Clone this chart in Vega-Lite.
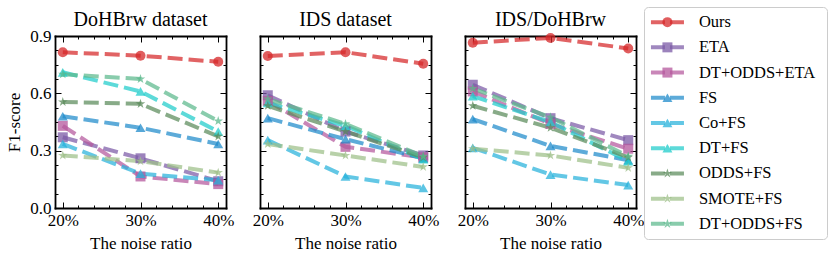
{
  "$schema": "https://vega.github.io/schema/vega-lite/v6.json",
  "padding": {"left": 5, "right": 5, "top": 6, "bottom": 5},
  "datasets": {
    "scores": [
      {"dataset": "DoHBrw", "series": "Ours", "noise": 20, "f1": 0.815},
      {"dataset": "DoHBrw", "series": "Ours", "noise": 30, "f1": 0.797},
      {"dataset": "DoHBrw", "series": "Ours", "noise": 40, "f1": 0.765},
      {"dataset": "DoHBrw", "series": "ETA", "noise": 20, "f1": 0.37},
      {"dataset": "DoHBrw", "series": "ETA", "noise": 30, "f1": 0.26},
      {"dataset": "DoHBrw", "series": "ETA", "noise": 40, "f1": 0.14},
      {"dataset": "DoHBrw", "series": "DT+ODDS+ETA", "noise": 20, "f1": 0.43},
      {"dataset": "DoHBrw", "series": "DT+ODDS+ETA", "noise": 30, "f1": 0.165},
      {"dataset": "DoHBrw", "series": "DT+ODDS+ETA", "noise": 40, "f1": 0.125},
      {"dataset": "DoHBrw", "series": "FS", "noise": 20, "f1": 0.48},
      {"dataset": "DoHBrw", "series": "FS", "noise": 30, "f1": 0.42},
      {"dataset": "DoHBrw", "series": "FS", "noise": 40, "f1": 0.335},
      {"dataset": "DoHBrw", "series": "Co+FS", "noise": 20, "f1": 0.335},
      {"dataset": "DoHBrw", "series": "Co+FS", "noise": 30, "f1": 0.18},
      {"dataset": "DoHBrw", "series": "Co+FS", "noise": 40, "f1": 0.145},
      {"dataset": "DoHBrw", "series": "DT+FS", "noise": 20, "f1": 0.71},
      {"dataset": "DoHBrw", "series": "DT+FS", "noise": 30, "f1": 0.61},
      {"dataset": "DoHBrw", "series": "DT+FS", "noise": 40, "f1": 0.40},
      {"dataset": "DoHBrw", "series": "ODDS+FS", "noise": 20, "f1": 0.555},
      {"dataset": "DoHBrw", "series": "ODDS+FS", "noise": 30, "f1": 0.545},
      {"dataset": "DoHBrw", "series": "ODDS+FS", "noise": 40, "f1": 0.375},
      {"dataset": "DoHBrw", "series": "SMOTE+FS", "noise": 20, "f1": 0.275},
      {"dataset": "DoHBrw", "series": "SMOTE+FS", "noise": 30, "f1": 0.245},
      {"dataset": "DoHBrw", "series": "SMOTE+FS", "noise": 40, "f1": 0.185},
      {"dataset": "DoHBrw", "series": "DT+ODDS+FS", "noise": 20, "f1": 0.70},
      {"dataset": "DoHBrw", "series": "DT+ODDS+FS", "noise": 30, "f1": 0.675},
      {"dataset": "DoHBrw", "series": "DT+ODDS+FS", "noise": 40, "f1": 0.455},

      {"dataset": "IDS", "series": "Ours", "noise": 20, "f1": 0.795},
      {"dataset": "IDS", "series": "Ours", "noise": 30, "f1": 0.815},
      {"dataset": "IDS", "series": "Ours", "noise": 40, "f1": 0.755},
      {"dataset": "IDS", "series": "ETA", "noise": 20, "f1": 0.59},
      {"dataset": "IDS", "series": "ETA", "noise": 30, "f1": 0.40},
      {"dataset": "IDS", "series": "ETA", "noise": 40, "f1": 0.275},
      {"dataset": "IDS", "series": "DT+ODDS+ETA", "noise": 20, "f1": 0.56},
      {"dataset": "IDS", "series": "DT+ODDS+ETA", "noise": 30, "f1": 0.32},
      {"dataset": "IDS", "series": "DT+ODDS+ETA", "noise": 40, "f1": 0.265},
      {"dataset": "IDS", "series": "FS", "noise": 20, "f1": 0.47},
      {"dataset": "IDS", "series": "FS", "noise": 30, "f1": 0.36},
      {"dataset": "IDS", "series": "FS", "noise": 40, "f1": 0.26},
      {"dataset": "IDS", "series": "Co+FS", "noise": 20, "f1": 0.355},
      {"dataset": "IDS", "series": "Co+FS", "noise": 30, "f1": 0.165},
      {"dataset": "IDS", "series": "Co+FS", "noise": 40, "f1": 0.105},
      {"dataset": "IDS", "series": "DT+FS", "noise": 20, "f1": 0.55},
      {"dataset": "IDS", "series": "DT+FS", "noise": 30, "f1": 0.43},
      {"dataset": "IDS", "series": "DT+FS", "noise": 40, "f1": 0.255},
      {"dataset": "IDS", "series": "ODDS+FS", "noise": 20, "f1": 0.535},
      {"dataset": "IDS", "series": "ODDS+FS", "noise": 30, "f1": 0.40},
      {"dataset": "IDS", "series": "ODDS+FS", "noise": 40, "f1": 0.265},
      {"dataset": "IDS", "series": "SMOTE+FS", "noise": 20, "f1": 0.335},
      {"dataset": "IDS", "series": "SMOTE+FS", "noise": 30, "f1": 0.275},
      {"dataset": "IDS", "series": "SMOTE+FS", "noise": 40, "f1": 0.215},
      {"dataset": "IDS", "series": "DT+ODDS+FS", "noise": 20, "f1": 0.57},
      {"dataset": "IDS", "series": "DT+ODDS+FS", "noise": 30, "f1": 0.44},
      {"dataset": "IDS", "series": "DT+ODDS+FS", "noise": 40, "f1": 0.27},

      {"dataset": "IDS/DoHBrw", "series": "Ours", "noise": 20, "f1": 0.865},
      {"dataset": "IDS/DoHBrw", "series": "Ours", "noise": 30, "f1": 0.89},
      {"dataset": "IDS/DoHBrw", "series": "Ours", "noise": 40, "f1": 0.835},
      {"dataset": "IDS/DoHBrw", "series": "ETA", "noise": 20, "f1": 0.645},
      {"dataset": "IDS/DoHBrw", "series": "ETA", "noise": 30, "f1": 0.47},
      {"dataset": "IDS/DoHBrw", "series": "ETA", "noise": 40, "f1": 0.355},
      {"dataset": "IDS/DoHBrw", "series": "DT+ODDS+ETA", "noise": 20, "f1": 0.61},
      {"dataset": "IDS/DoHBrw", "series": "DT+ODDS+ETA", "noise": 30, "f1": 0.44},
      {"dataset": "IDS/DoHBrw", "series": "DT+ODDS+ETA", "noise": 40, "f1": 0.31},
      {"dataset": "IDS/DoHBrw", "series": "FS", "noise": 20, "f1": 0.465},
      {"dataset": "IDS/DoHBrw", "series": "FS", "noise": 30, "f1": 0.325},
      {"dataset": "IDS/DoHBrw", "series": "FS", "noise": 40, "f1": 0.25},
      {"dataset": "IDS/DoHBrw", "series": "Co+FS", "noise": 20, "f1": 0.315},
      {"dataset": "IDS/DoHBrw", "series": "Co+FS", "noise": 30, "f1": 0.175},
      {"dataset": "IDS/DoHBrw", "series": "Co+FS", "noise": 40, "f1": 0.12},
      {"dataset": "IDS/DoHBrw", "series": "DT+FS", "noise": 20, "f1": 0.585},
      {"dataset": "IDS/DoHBrw", "series": "DT+FS", "noise": 30, "f1": 0.45},
      {"dataset": "IDS/DoHBrw", "series": "DT+FS", "noise": 40, "f1": 0.245},
      {"dataset": "IDS/DoHBrw", "series": "ODDS+FS", "noise": 20, "f1": 0.535},
      {"dataset": "IDS/DoHBrw", "series": "ODDS+FS", "noise": 30, "f1": 0.42},
      {"dataset": "IDS/DoHBrw", "series": "ODDS+FS", "noise": 40, "f1": 0.265},
      {"dataset": "IDS/DoHBrw", "series": "SMOTE+FS", "noise": 20, "f1": 0.31},
      {"dataset": "IDS/DoHBrw", "series": "SMOTE+FS", "noise": 30, "f1": 0.275},
      {"dataset": "IDS/DoHBrw", "series": "SMOTE+FS", "noise": 40, "f1": 0.21},
      {"dataset": "IDS/DoHBrw", "series": "DT+ODDS+FS", "noise": 20, "f1": 0.625},
      {"dataset": "IDS/DoHBrw", "series": "DT+ODDS+FS", "noise": 30, "f1": 0.475},
      {"dataset": "IDS/DoHBrw", "series": "DT+ODDS+FS", "noise": 40, "f1": 0.27}
    ],
    "legend": [
      {"series": "Ours"}, {"series": "ETA"}, {"series": "DT+ODDS+ETA"}, {"series": "FS"}, {"series": "Co+FS"},
      {"series": "DT+FS"}, {"series": "ODDS+FS"}, {"series": "SMOTE+FS"}, {"series": "DT+ODDS+FS"}
    ]
  },
  "spacing": -2,
  "hconcat": [
    {
      "spacing": 18,
      "hconcat": [
        {
          "title": {"text": "DoHBrw dataset", "frame": "group", "offset": -39, "baseline": "alphabetic"},
          "width": 171, "height": 201,
          "view": {"stroke": null},
          "data": {"name": "scores"},
          "transform": [{"filter": "datum.dataset == 'DoHBrw'"}],
          "layer": [
            {
              "mark": {"type": "line", "strokeWidth": 4, "strokeDash": [15, 6], "opacity": 0.72},
              "encoding": {
                "x": {"field": "noise", "type": "quantitative", "scale": {"domain": [19, 41], "nice": false, "zero": false},
                  "axis": {"orient": "bottom", "values": [20,22,24,26,28,30,32,34,36,38,40], "labelExpr": "datum.value % 10 == 0 ? datum.value + '%' : ''", "labelOverlap": false, "labelFlush": false, "labelBound": false, "tickSize": {"condition": {"test": "datum.value % 10 == 0", "value": -6}, "value": -3}, "labelPadding": 10, "title": "The noise ratio", "titlePadding": 4}},
                "y": {"field": "f1", "type": "quantitative", "scale": {"domain": [0, 0.9], "range": [201, 29], "nice": false, "zero": false},
                  "axis": {"orient": "left", "values": [0,0.075,0.15,0.225,0.3,0.375,0.45,0.525,0.6,0.675,0.75,0.825,0.9], "labelExpr": "round(datum.value*1000) % 300 == 0 ? format(datum.value, '.1f') : ''", "labelOverlap": false, "labelFlush": false, "tickSize": {"condition": {"test": "round(datum.value*1000) % 300 == 0", "value": -6}, "value": -3}, "labelPadding": 10, "title": "F1-score", "titlePadding": 6}},
                "color": {"field": "series", "type": "nominal", "legend": null, "scale": {"domain": ["Ours","ETA","DT+ODDS+ETA","FS","Co+FS","DT+FS","ODDS+FS","SMOTE+FS","DT+ODDS+FS"], "range": ["#d62728","#7b5aa6","#b4579c","#1f8bcb","#27b2db","#1fcccb","#5a8a5a","#9dbf88","#5bb88c"]}}
              }
            },
            {
              "mark": {"type": "point", "filled": true, "opacity": 0.75},
              "encoding": {
                "x": {"field": "noise", "type": "quantitative", "axis": {"orient": "top", "offset": -29, "values": [20,22,24,26,28,30,32,34,36,38,40], "labels": false, "title": null, "tickSize": {"condition": {"test": "datum.value % 10 == 0", "value": -6}, "value": -3}}},
                "y": {"field": "f1", "type": "quantitative", "axis": {"orient": "right", "values": [0,0.075,0.15,0.225,0.3,0.375,0.45,0.525,0.6,0.675,0.75,0.825,0.9], "labels": false, "title": null, "tickSize": {"condition": {"test": "round(datum.value*1000) % 300 == 0", "value": -6}, "value": -3}}},
                "color": {"field": "series", "type": "nominal", "legend": null},
                "size": {"field": "series", "type": "nominal", "legend": null, "scale": {"domain": ["Ours","ETA","DT+ODDS+ETA","FS","Co+FS","DT+FS","ODDS+FS","SMOTE+FS","DT+ODDS+FS"], "range": [100,100,100,110,110,110,170,170,170]}},
                "shape": {"field": "series", "type": "nominal", "legend": null, "scale": {"domain": ["Ours","ETA","DT+ODDS+ETA","FS","Co+FS","DT+FS","ODDS+FS","SMOTE+FS","DT+ODDS+FS"], "range": ["circle","square","square","triangle-up","triangle-up","triangle-up","M0,-1L0.2245,-0.309L0.951,-0.309L0.363,0.118L0.588,0.809L0,0.382L-0.588,0.809L-0.363,0.118L-0.951,-0.309L-0.2245,-0.309Z","M0,-1L0.2245,-0.309L0.951,-0.309L0.363,0.118L0.588,0.809L0,0.382L-0.588,0.809L-0.363,0.118L-0.951,-0.309L-0.2245,-0.309Z","M0,-1L0.2245,-0.309L0.951,-0.309L0.363,0.118L0.588,0.809L0,0.382L-0.588,0.809L-0.363,0.118L-0.951,-0.309L-0.2245,-0.309Z"]}}
              }
            }
          ],
          "resolve": {"axis": {"x": "independent", "y": "independent"}}
        },
        {
          "title": {"text": "IDS dataset", "frame": "group", "offset": -39, "baseline": "alphabetic"},
          "width": 171, "height": 201,
          "view": {"stroke": null},
          "data": {"name": "scores"},
          "transform": [{"filter": "datum.dataset == 'IDS'"}],
          "layer": [
            {
              "mark": {"type": "line", "strokeWidth": 4, "strokeDash": [15, 6], "opacity": 0.72},
              "encoding": {
                "x": {"field": "noise", "type": "quantitative", "scale": {"domain": [19, 41], "nice": false, "zero": false},
                  "axis": {"orient": "bottom", "values": [20,22,24,26,28,30,32,34,36,38,40], "labelExpr": "datum.value % 10 == 0 ? datum.value + '%' : ''", "labelOverlap": false, "labelFlush": false, "labelBound": false, "tickSize": {"condition": {"test": "datum.value % 10 == 0", "value": -6}, "value": -3}, "labelPadding": 10, "title": "The noise ratio", "titlePadding": 4}},
                "y": {"field": "f1", "type": "quantitative", "scale": {"domain": [0, 0.9], "range": [201, 29], "nice": false, "zero": false},
                  "axis": {"orient": "left", "values": [0,0.075,0.15,0.225,0.3,0.375,0.45,0.525,0.6,0.675,0.75,0.825,0.9], "labels": false, "tickSize": {"condition": {"test": "round(datum.value*1000) % 300 == 0", "value": -6}, "value": -3}, "title": null}},
                "color": {"field": "series", "type": "nominal", "legend": null, "scale": {"domain": ["Ours","ETA","DT+ODDS+ETA","FS","Co+FS","DT+FS","ODDS+FS","SMOTE+FS","DT+ODDS+FS"], "range": ["#d62728","#7b5aa6","#b4579c","#1f8bcb","#27b2db","#1fcccb","#5a8a5a","#9dbf88","#5bb88c"]}}
              }
            },
            {
              "mark": {"type": "point", "filled": true, "opacity": 0.75},
              "encoding": {
                "x": {"field": "noise", "type": "quantitative", "axis": {"orient": "top", "offset": -29, "values": [20,22,24,26,28,30,32,34,36,38,40], "labels": false, "title": null, "tickSize": {"condition": {"test": "datum.value % 10 == 0", "value": -6}, "value": -3}}},
                "y": {"field": "f1", "type": "quantitative", "axis": {"orient": "right", "values": [0,0.075,0.15,0.225,0.3,0.375,0.45,0.525,0.6,0.675,0.75,0.825,0.9], "labels": false, "title": null, "tickSize": {"condition": {"test": "round(datum.value*1000) % 300 == 0", "value": -6}, "value": -3}}},
                "color": {"field": "series", "type": "nominal", "legend": null},
                "size": {"field": "series", "type": "nominal", "legend": null, "scale": {"domain": ["Ours","ETA","DT+ODDS+ETA","FS","Co+FS","DT+FS","ODDS+FS","SMOTE+FS","DT+ODDS+FS"], "range": [100,100,100,110,110,110,170,170,170]}},
                "shape": {"field": "series", "type": "nominal", "legend": null, "scale": {"domain": ["Ours","ETA","DT+ODDS+ETA","FS","Co+FS","DT+FS","ODDS+FS","SMOTE+FS","DT+ODDS+FS"], "range": ["circle","square","square","triangle-up","triangle-up","triangle-up","M0,-1L0.2245,-0.309L0.951,-0.309L0.363,0.118L0.588,0.809L0,0.382L-0.588,0.809L-0.363,0.118L-0.951,-0.309L-0.2245,-0.309Z","M0,-1L0.2245,-0.309L0.951,-0.309L0.363,0.118L0.588,0.809L0,0.382L-0.588,0.809L-0.363,0.118L-0.951,-0.309L-0.2245,-0.309Z","M0,-1L0.2245,-0.309L0.951,-0.309L0.363,0.118L0.588,0.809L0,0.382L-0.588,0.809L-0.363,0.118L-0.951,-0.309L-0.2245,-0.309Z"]}}
              }
            }
          ],
          "resolve": {"axis": {"x": "independent", "y": "independent"}}
        },
        {
          "title": {"text": "IDS/DoHBrw", "frame": "group", "offset": -39, "baseline": "alphabetic"},
          "width": 171, "height": 201,
          "view": {"stroke": null},
          "data": {"name": "scores"},
          "transform": [{"filter": "datum.dataset == 'IDS/DoHBrw'"}],
          "layer": [
            {
              "mark": {"type": "line", "strokeWidth": 4, "strokeDash": [15, 6], "opacity": 0.72},
              "encoding": {
                "x": {"field": "noise", "type": "quantitative", "scale": {"domain": [19, 41], "nice": false, "zero": false},
                  "axis": {"orient": "bottom", "values": [20,22,24,26,28,30,32,34,36,38,40], "labelExpr": "datum.value % 10 == 0 ? datum.value + '%' : ''", "labelOverlap": false, "labelFlush": false, "labelBound": false, "tickSize": {"condition": {"test": "datum.value % 10 == 0", "value": -6}, "value": -3}, "labelPadding": 10, "title": "The noise ratio", "titlePadding": 4}},
                "y": {"field": "f1", "type": "quantitative", "scale": {"domain": [0, 0.9], "range": [201, 29], "nice": false, "zero": false},
                  "axis": {"orient": "left", "values": [0,0.075,0.15,0.225,0.3,0.375,0.45,0.525,0.6,0.675,0.75,0.825,0.9], "labels": false, "tickSize": {"condition": {"test": "round(datum.value*1000) % 300 == 0", "value": -6}, "value": -3}, "title": null}},
                "color": {"field": "series", "type": "nominal", "legend": null, "scale": {"domain": ["Ours","ETA","DT+ODDS+ETA","FS","Co+FS","DT+FS","ODDS+FS","SMOTE+FS","DT+ODDS+FS"], "range": ["#d62728","#7b5aa6","#b4579c","#1f8bcb","#27b2db","#1fcccb","#5a8a5a","#9dbf88","#5bb88c"]}}
              }
            },
            {
              "mark": {"type": "point", "filled": true, "opacity": 0.75},
              "encoding": {
                "x": {"field": "noise", "type": "quantitative", "axis": {"orient": "top", "offset": -29, "values": [20,22,24,26,28,30,32,34,36,38,40], "labels": false, "title": null, "tickSize": {"condition": {"test": "datum.value % 10 == 0", "value": -6}, "value": -3}}},
                "y": {"field": "f1", "type": "quantitative", "axis": {"orient": "right", "values": [0,0.075,0.15,0.225,0.3,0.375,0.45,0.525,0.6,0.675,0.75,0.825,0.9], "labels": false, "title": null, "tickSize": {"condition": {"test": "round(datum.value*1000) % 300 == 0", "value": -6}, "value": -3}}},
                "color": {"field": "series", "type": "nominal", "legend": null},
                "size": {"field": "series", "type": "nominal", "legend": null, "scale": {"domain": ["Ours","ETA","DT+ODDS+ETA","FS","Co+FS","DT+FS","ODDS+FS","SMOTE+FS","DT+ODDS+FS"], "range": [100,100,100,110,110,110,170,170,170]}},
                "shape": {"field": "series", "type": "nominal", "legend": null, "scale": {"domain": ["Ours","ETA","DT+ODDS+ETA","FS","Co+FS","DT+FS","ODDS+FS","SMOTE+FS","DT+ODDS+FS"], "range": ["circle","square","square","triangle-up","triangle-up","triangle-up","M0,-1L0.2245,-0.309L0.951,-0.309L0.363,0.118L0.588,0.809L0,0.382L-0.588,0.809L-0.363,0.118L-0.951,-0.309L-0.2245,-0.309Z","M0,-1L0.2245,-0.309L0.951,-0.309L0.363,0.118L0.588,0.809L0,0.382L-0.588,0.809L-0.363,0.118L-0.951,-0.309L-0.2245,-0.309Z","M0,-1L0.2245,-0.309L0.951,-0.309L0.363,0.118L0.588,0.809L0,0.382L-0.588,0.809L-0.363,0.118L-0.951,-0.309L-0.2245,-0.309Z"]}}
              }
            }
          ],
          "resolve": {"axis": {"x": "independent", "y": "independent"}}
        }
      ]
    },
    {
      "width": 183, "height": 232,
      "view": {"stroke": "#cccccc", "strokeWidth": 1, "cornerRadius": 4},
      "data": {"name": "legend"},
      "layer": [
        {
          "mark": {"type": "rule", "strokeWidth": 4, "strokeDash": [14, 5], "opacity": 0.72},
          "encoding": {
            "x": {"datum": 0.38, "type": "quantitative", "scale": {"domain": [0, 10], "nice": false, "zero": false}, "axis": null},
            "x2": {"datum": 2.19},
            "y": {"field": "series", "type": "nominal", "scale": {"type": "point", "padding": 0.6, "domain": ["Ours","ETA","DT+ODDS+ETA","FS","Co+FS","DT+FS","ODDS+FS","SMOTE+FS","DT+ODDS+FS"]}, "axis": null},
            "color": {"field": "series", "type": "nominal", "legend": null, "scale": {"domain": ["Ours","ETA","DT+ODDS+ETA","FS","Co+FS","DT+FS","ODDS+FS","SMOTE+FS","DT+ODDS+FS"], "range": ["#d62728","#7b5aa6","#b4579c","#1f8bcb","#27b2db","#1fcccb","#5a8a5a","#9dbf88","#5bb88c"]}}
          }
        },
        {
          "mark": {"type": "point", "filled": true, "opacity": 0.75},
          "encoding": {
            "x": {"datum": 1.28, "type": "quantitative"},
            "y": {"field": "series", "type": "nominal"},
            "color": {"field": "series", "type": "nominal", "legend": null},
            "size": {"field": "series", "type": "nominal", "legend": null, "scale": {"domain": ["Ours","ETA","DT+ODDS+ETA","FS","Co+FS","DT+FS","ODDS+FS","SMOTE+FS","DT+ODDS+FS"], "range": [100,100,100,110,110,110,170,170,170]}},
            "shape": {"field": "series", "type": "nominal", "legend": null, "scale": {"domain": ["Ours","ETA","DT+ODDS+ETA","FS","Co+FS","DT+FS","ODDS+FS","SMOTE+FS","DT+ODDS+FS"], "range": ["circle","square","square","triangle-up","triangle-up","triangle-up","M0,-1L0.2245,-0.309L0.951,-0.309L0.363,0.118L0.588,0.809L0,0.382L-0.588,0.809L-0.363,0.118L-0.951,-0.309L-0.2245,-0.309Z","M0,-1L0.2245,-0.309L0.951,-0.309L0.363,0.118L0.588,0.809L0,0.382L-0.588,0.809L-0.363,0.118L-0.951,-0.309L-0.2245,-0.309Z","M0,-1L0.2245,-0.309L0.951,-0.309L0.363,0.118L0.588,0.809L0,0.382L-0.588,0.809L-0.363,0.118L-0.951,-0.309L-0.2245,-0.309Z"]}}
          }
        },
        {
          "mark": {"type": "text", "align": "left", "baseline": "middle", "fontSize": 16.5, "font": "Liberation Serif", "color": "black"},
          "encoding": {
            "x": {"datum": 3.0, "type": "quantitative"},
            "y": {"field": "series", "type": "nominal"},
            "text": {"field": "series", "type": "nominal"}
          }
        }
      ]
    }
  ],
  "config": {
    "font": "Liberation Serif",
    "background": "white",
    "axis": {"domain": true, "domainColor": "black", "domainWidth": 1.8, "domainCap": "square", "grid": false, "labelFont": "Liberation Serif", "labelFontSize": 17, "labelColor": "black", "tickColor": "black", "tickWidth": 1, "titleFont": "Liberation Serif", "titleFontSize": 17, "titleFontWeight": "normal", "titleColor": "black"},
    "title": {"font": "Liberation Serif", "fontSize": 20, "fontWeight": "normal", "color": "black"}
  }
}
